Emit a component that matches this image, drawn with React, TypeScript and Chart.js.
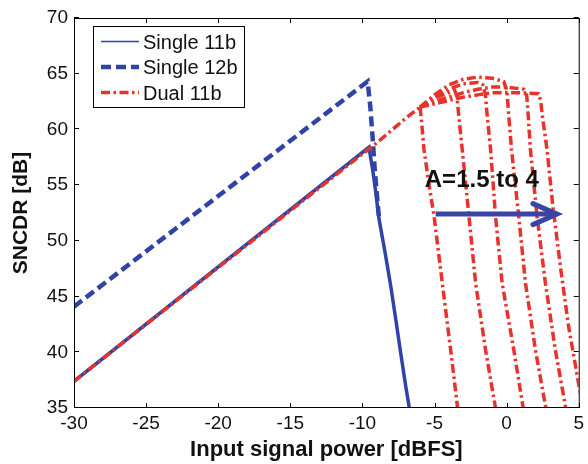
import React, { useEffect, useRef } from 'react';
import { Chart, registerables } from 'chart.js';

Chart.register(...registerables);

// ---- axis ticks ----
const xTicks = [-30, -25, -20, -15, -10, -5, 0, 5];
const yTicks = [35, 40, 45, 50, 55, 60, 65, 70];

// ---- Single 11b (solid blue) ----
const single11bX = [-30, -9.55, -9.3, -9.12, -8.84, -8.42, -8.03, -7.68, -7.34, -6.99, -6.76, -6.5];
const single11bY = [37.4, 58.4, 56.5, 54.8, 51.9, 48.9, 45.9, 42.9, 39.9, 36.9, 35.1, 33.2];

// ---- Single 12b (dashed blue) ----
const single12bX = [-30, -9.64, -9.45, -9.3, -9.15, -9.0, -8.84];
const single12bY = [44.1, 64.3, 62.0, 59.4, 56.5, 54.2, 51.9];

// ---- Dual 11b (red dash-dot), shared rise then one branch per A ----
const dualRiseX = [-30, -10, -9, -8, -7, -6];
const dualRiseY = [37.4, 57.8, 58.8, 59.9, 61.0, 62.0];

const dualA15X = [-6, -5.95, -5.85, -5.73, -5.4, -5.03, -4.46, -3.88, -3.4, -3.2];
const dualA15Y = [62.0, 61.4, 60.0, 58.2, 55.2, 52.2, 46.2, 40.2, 35.0, 33.0];

const dualA20X = [-6, -5, -4, -3.6, -3.45, -3.3, -3.08, -2.61, -2.15, -1.46, -0.77, -0.57];
const dualA20Y = [62.0, 62.8, 63.3, 63.5, 63.0, 61.0, 58.2, 52.2, 46.2, 40.2, 35.0, 33.5];

const dualA25X = [-6, -5, -4, -3, -2, -1.65, -1.48, -1.33, -1.11, -0.77, -0.31, 0.5, 1.15, 1.4];
const dualA25Y = [62.0, 62.9, 63.6, 64.1, 64.2, 64.0, 63.2, 61.0, 58.2, 52.2, 46.2, 40.2, 35.0, 33.0];

const dualA30X = [-6, -5, -4, -3, -2, -1, -0.2, 0.02, 0.15, 0.34, 0.84, 1.31, 2.0, 2.72, 3.0];
const dualA30Y = [62.0, 63.1, 64.0, 64.5, 64.7, 64.6, 64.3, 63.5, 61.2, 58.2, 52.2, 46.2, 40.2, 35.0, 33.0];

const dualA35X = [-6, -5, -4, -3, -2, -1, 0, 1.2, 1.4, 1.5, 1.65, 2.11, 2.69, 3.38, 4.1, 4.35];
const dualA35Y = [62.0, 62.5, 62.9, 63.3, 63.6, 63.8, 63.8, 63.6, 63.0, 61.2, 58.2, 52.2, 46.2, 40.2, 35.0, 33.2];

const dualA40X = [-6, -5, -4, -3, -2, -1, 1, 2.2, 2.36, 2.5, 2.8, 3.2, 3.75, 4.3, 4.95, 5.4];
const dualA40Y = [62.0, 62.3, 62.6, 62.9, 63.1, 63.3, 63.3, 63.2, 62.6, 61.0, 58.2, 53.2, 47.5, 42.3, 37.5, 34.0];

// ---- labels ----
const legendLabels = ['Single 11b', 'Single 12b', 'Dual 11b'];
const xTitle = 'Input signal power [dBFS]';
const yTitle = 'SNCDR [dB]';
const annotationText = 'A=1.5 to 4';
const arrowFrom = [-4.92, 52.4];
const arrowTo = [3.49, 52.4];
const annotationPos = [-1.72, 55.4];

const BLUE = '#2f44a6';
const RED = '#e8322b';
const ARROW = '#3b44a3';
const FONT = "'Liberation Sans', Arial, Helvetica, sans-serif";
const RED_DASH = [9, 3.5, 2.5, 3.5];

const zip = (xs: number[], ys: number[]) => xs.map((x, i) => ({ x, y: ys[i] }));

const redStyle = {
  borderColor: RED,
  borderWidth: 3.5,
  borderDash: RED_DASH,
  showLine: true,
  pointRadius: 0,
  fill: false,
};

const overlayPlugin = {
  id: 'overlay',
  afterDatasetsDraw(chart: any) {
    const { ctx, chartArea, scales } = chart;
    const { left, right, top, bottom } = chartArea;
    const x = scales.x;
    const y = scales.y;
    ctx.save();
    // arrow
    const x0 = x.getPixelForValue(arrowFrom[0]);
    const x1 = x.getPixelForValue(arrowTo[0]);
    const ya = y.getPixelForValue(arrowFrom[1]);
    ctx.strokeStyle = ARROW;
    ctx.lineWidth = 5;
    ctx.lineCap = 'butt';
    ctx.beginPath();
    ctx.moveTo(x0, ya);
    ctx.lineTo(x1 - 2, ya);
    ctx.stroke();
    ctx.lineCap = 'round';
    ctx.lineJoin = 'miter';
    ctx.beginPath();
    ctx.moveTo(x1 - 24, ya - 10.5);
    ctx.lineTo(x1, ya);
    ctx.lineTo(x1 - 24, ya + 10.5);
    ctx.stroke();
    // annotation text
    ctx.fillStyle = '#111';
    ctx.font = `bold 24px ${FONT}`;
    ctx.textAlign = 'center';
    ctx.textBaseline = 'middle';
    ctx.fillText(annotationText, x.getPixelForValue(annotationPos[0]), y.getPixelForValue(annotationPos[1]));

    // frame + inward ticks
    ctx.strokeStyle = '#000';
    ctx.lineWidth = 1;
    ctx.lineCap = 'butt';
    ctx.beginPath();
    for (const v of xTicks) {
      const px = Math.round(x.getPixelForValue(v)) + 0.5;
      ctx.moveTo(px, bottom);
      ctx.lineTo(px, bottom - 5);
      ctx.moveTo(px, top);
      ctx.lineTo(px, top + 5);
    }
    for (const v of yTicks) {
      const py = Math.round(y.getPixelForValue(v)) - 0.5;
      ctx.moveTo(left, py);
      ctx.lineTo(left + 5, py);
      ctx.moveTo(right, py);
      ctx.lineTo(right - 5, py);
    }
    ctx.stroke();
    ctx.strokeRect(left + 0.5, top + 0.5, right - left, bottom - top - 1);

    // legend
    const bx = 93.5, by = 26.5, bw = 151, bh = 81;
    ctx.fillStyle = '#fff';
    ctx.fillRect(bx, by, bw, bh);
    ctx.strokeStyle = '#000';
    ctx.lineWidth = 1;
    ctx.strokeRect(bx, by, bw, bh);
    const rows = [42, 67.5, 93];
    const styles = [
      { color: BLUE, width: 1.5, dash: [] as number[] },
      { color: BLUE, width: 4.5, dash: [10, 5] },
      { color: RED, width: 3.5, dash: RED_DASH },
    ];
    ctx.font = `20px ${FONT}`;
    ctx.textAlign = 'left';
    ctx.textBaseline = 'middle';
    rows.forEach((ry, i) => {
      const s = styles[i];
      ctx.strokeStyle = s.color;
      ctx.lineWidth = s.width;
      ctx.setLineDash(s.dash);
      ctx.beginPath();
      ctx.moveTo(101, ry - 0.5);
      ctx.lineTo(139, ry - 0.5);
      ctx.stroke();
      ctx.setLineDash([]);
      ctx.fillStyle = '#111';
      ctx.fillText(legendLabels[i], 143, ry + 1);
    });
    ctx.restore();
  },
};

export default function App() {
  const ref = useRef<HTMLCanvasElement>(null);
  useEffect(() => {
    const canvas = ref.current;
    if (!canvas) return;
    const chart = new Chart(canvas, {
      type: 'scatter',
      data: {
        datasets: [
          { label: 'Dual 11b', data: zip(dualRiseX, dualRiseY), ...redStyle },
          { label: 'Dual 11b A=1.5', data: zip(dualA15X, dualA15Y), ...redStyle },
          { label: 'Dual 11b A=2', data: zip(dualA20X, dualA20Y), ...redStyle },
          { label: 'Dual 11b A=2.5', data: zip(dualA25X, dualA25Y), ...redStyle },
          { label: 'Dual 11b A=3', data: zip(dualA30X, dualA30Y), ...redStyle },
          { label: 'Dual 11b A=3.5', data: zip(dualA35X, dualA35Y), ...redStyle },
          { label: 'Dual 11b A=4', data: zip(dualA40X, dualA40Y), ...redStyle },
          {
            label: 'Single 11b',
            data: zip(single11bX, single11bY),
            borderColor: BLUE,
            borderWidth: 3.5,
            showLine: true,
            pointRadius: 0,
          },
          {
            label: 'Single 12b',
            data: zip(single12bX, single12bY),
            borderColor: BLUE,
            borderWidth: 4.5,
            borderDash: [10, 5],
            showLine: true,
            pointRadius: 0,
          },
        ] as any,
      },
      options: {
        responsive: false,
        animation: false,
        devicePixelRatio: 1,
        layout: { padding: { top: 18, right: 8, left: 0, bottom: 0 } },
        elements: { line: { tension: 0 }, point: { radius: 0 } },
        plugins: { legend: { display: false }, tooltip: { enabled: false } },
        scales: {
          x: {
            type: 'linear',
            min: -30,
            max: 5,
            afterFit: (s: any) => { s.height = 56; },
            grid: { display: false, drawTicks: false, tickLength: 0 },
            border: { display: false },
            ticks: {
              stepSize: 5,
              autoSkip: false,
              maxRotation: 0,
              padding: 4,
              color: '#111',
              font: { family: FONT, size: 19 },
            },
            title: {
              display: true,
              text: xTitle,
              color: '#111',
              font: { family: FONT, size: 22, weight: 'bold' },
              padding: { top: 0, bottom: 1 },
            },
          },
          y: {
            type: 'linear',
            min: 35,
            max: 70,
            afterFit: (s: any) => { s.width = 74; },
            grid: { display: false, drawTicks: false, tickLength: 0 },
            border: { display: false },
            ticks: {
              stepSize: 5,
              autoSkip: false,
              padding: 6,
              color: '#111',
              font: { family: FONT, size: 19 },
            },
            title: {
              display: true,
              text: yTitle,
              color: '#111',
              font: { family: FONT, size: 21, weight: 'bold' },
              padding: { top: 9, bottom: 0 },
            },
          },
        },
      } as any,
      plugins: [overlayPlugin],
    });
    return () => chart.destroy();
  }, []);
  return (
    <div style={{ position: 'absolute', left: 0, top: 0, width: 588, height: 464, background: '#fff' }}>
      <canvas ref={ref} width={588} height={464} style={{ display: 'block', width: 588, height: 464 }} />
    </div>
  );
}
